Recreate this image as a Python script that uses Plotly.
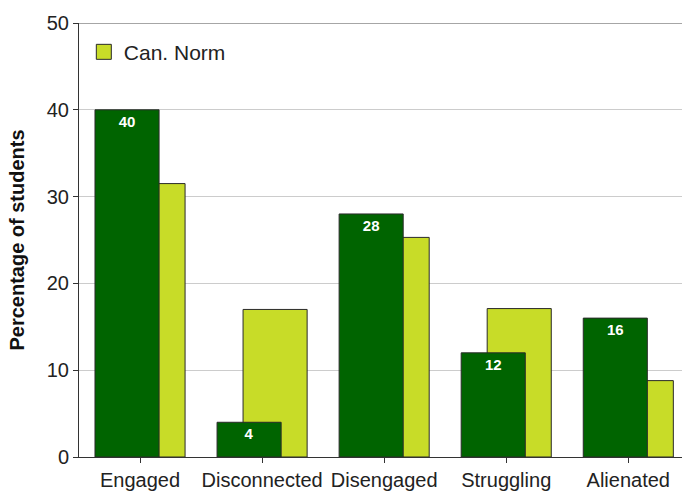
import plotly.graph_objects as go

# Student engagement profile vs. Canadian norm
categories = ["Engaged", "Disconnected", "Disengaged", "Struggling", "Alienated"]
school_values = [40, 4, 28, 12, 16]
norm_values = [31.5, 17.0, 25.3, 17.1, 8.8]
y_ticks = [0, 10, 20, 30, 40, 50]

FONT = "Liberation Sans, Arial, Helvetica, sans-serif"
DARK = "#006400"
LIGHT = "#c8dc28"
EDGE = "#2a2a2a"

fig = go.Figure()

# Norm bars sit behind, shifted right of the school bars
fig.add_trace(go.Bar(
    x=categories, y=norm_values, name="Can. Norm",
    showlegend=False, legendgroup="norm",
    marker=dict(color=LIGHT, line=dict(color=EDGE, width=1)),
    width=0.525, offset=-0.156,
    hoverinfo="x+y",
))

# School bars in front, labelled with their values near the top
fig.add_trace(go.Bar(
    x=categories, y=school_values, name="School",
    showlegend=False,
    marker=dict(color=DARK, line=dict(color=EDGE, width=1)),
    width=0.525, offset=-0.369,
    text=[str(v) for v in school_values],
    textposition="inside", insidetextanchor="end", textangle=0,
    constraintext="none",
    textfont=dict(family=FONT, size=15, color="white", weight="bold"),
    hoverinfo="x+y",
))

# Larger square swatch for the legend entry of the norm series
fig.add_trace(go.Scatter(
    x=[None], y=[None], mode="markers", name="Can. Norm",
    legendgroup="norm",
    marker=dict(symbol="square", size=15, color=LIGHT,
                line=dict(color=EDGE, width=1)),
))

fig.update_layout(
    width=682, height=491,
    margin=dict(l=79, r=0, t=23, b=30),
    barmode="overlay",
    plot_bgcolor="white", paper_bgcolor="white",
    font=dict(family=FONT, size=20, color="#222222"),
    showlegend=True,
    legend=dict(
        x=0.008, y=0.98, xanchor="left", yanchor="top",
        bgcolor="rgba(0,0,0,0)", font=dict(size=21, color="#222222"),
        itemwidth=30,
    ),
    xaxis=dict(
        range=[-0.5, 4.44],
        showline=True, linecolor="#333333", linewidth=1,
        ticks="outside", ticklen=5, tickcolor="#333333",
        showgrid=False, tickfont=dict(size=20, color="#222222"),
    ),
    yaxis=dict(
        range=[0, 50], tickvals=y_ticks,
        showline=True, linecolor="#333333", linewidth=1,
        ticks="outside", ticklen=5, tickcolor="#333333",
        showgrid=True, gridcolor="#cccccc", gridwidth=1,
        zeroline=False,
        tickfont=dict(size=20, color="#222222"),
        title=dict(text="<b>Percentage of students</b>",
                   font=dict(size=20, color="#111111"), standoff=16),
    ),
)

# Frame line along the top of the plotting area
fig.add_shape(type="line", xref="paper", yref="y", x0=0, x1=1, y0=50, y1=50,
              line=dict(color="#888888", width=1.5), layer="above")

fig.write_html("out.html")
